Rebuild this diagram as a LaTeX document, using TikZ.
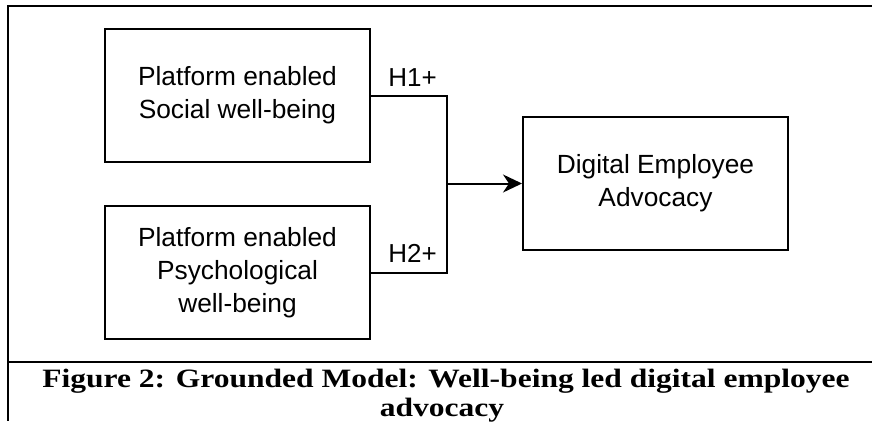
\documentclass[tikz,border=0pt]{standalone}
\usepackage{fontspec}
\setmainfont{Liberation Sans}
\newfontfamily\capfont[FakeStretch=1.19]{Liberation Serif}
\usetikzlibrary{arrows.meta}
\tikzset{
  x=1pt, y=-1pt,
  frameline/.style={line width=2pt, black},
  boxnode/.style={draw, line width=2pt, minimum width=265pt, minimum height=133pt,
    align=center, inner sep=0pt, font=\fontsize{26.3}{33}\selectfont},
  hlabel/.style={font=\fontsize{26}{30}\selectfont, inner sep=0pt},
  conn/.style={line width=2pt},
  capnode/.style={font=\capfont\bfseries\fontsize{26.5}{31}\selectfont, inner sep=0pt, anchor=base},
}
\begin{document}
\begin{tikzpicture}
\useasboundingbox (0,0) rectangle (872,421);
\fill[white] (0,0) rectangle (872,421);
% frame
\draw[frameline] (872,6) -- (8,6) -- (8,421);
\draw[frameline] (8,361.5) -- (872,361.5);
% boxes
\node[boxnode] (soc) at (237.5,95.5) {Platform enabled\\Social well-being};
\node[boxnode] (psy) at (237.5,272.5) {Platform enabled\\Psychological\\well-being};
\node[boxnode] (dea) at (655.5,183.5) {Digital Employee\\Advocacy};
% connectors
\coordinate (j) at (447,183.5);
\draw[conn] (soc.east) -| (j);
\draw[conn] (psy.east) -| (j);
\draw[conn, -{Stealth[length=19pt, width=18pt, inset=6pt]}] (j) -- (dea.west);
\node[hlabel] (h1) at (412.5,78) {H1+};
\node[hlabel] (h2) at (412.5,253) {H2+};
% caption
\node[capnode] (cap1) at (446,387) {Figure 2: Grounded Model: Well-being led digital employee};
\node[capnode] (cap2) at (442,416) {advocacy};
\end{tikzpicture}
\end{document}
